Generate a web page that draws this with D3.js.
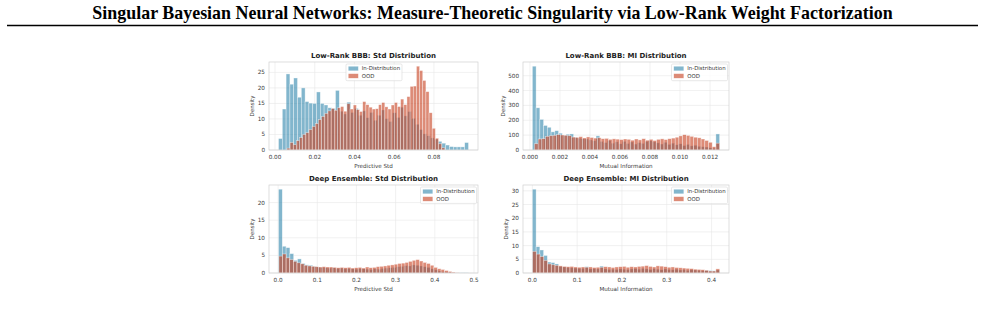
<!DOCTYPE html>
<html><head><meta charset="utf-8">
<script src="https://cdn.jsdelivr.net/npm/d3@7"></script>
<style>body{margin:0;background:#fff}svg{display:block}</style>
</head><body>
<svg id="c" width="985" height="309"></svg>
<script>
// ---------------- DATA ----------------
const figTitle = "Singular Bayesian Neural Networks: Measure-Theoretic Singularity via Low-Rank Weight Factorization";
const seriesNames = ["In-Distribution", "OOD"];

// Panel 1: Low-Rank BBB, predictive std
const p1Title = "Low-Rank BBB: Std Distribution";
const p1XLabel = "Predictive Std";
const p1XTicks = [0, 0.02, 0.04, 0.06, 0.08];
const p1YTicks = [0, 5, 10, 15, 20, 25];
const p1IdRange = [0.00176, 0.0974];
const p1IdDensity = [3.7, 13.2, 24.5, 21.2, 23.2, 17.0, 20.0, 15.6, 15.1, 15.0,
  18.7, 15.0, 14.5, 13.6, 13.4, 19.2, 12.5, 11.6, 15.4, 12.1,
  13.4, 11.2, 12.6, 10.4, 12.1, 9.6, 11.2, 12.9, 10.1, 9.2,
  12.0, 10.5, 13.8, 11.0, 12.4, 10.2, 8.3, 6.6, 5.2, 4.6,
  3.9, 3.5, 2.8, 2.2, 1.6, 1.1, 1.0, 1.0, 1.0, 2.4];
const p1OodRange = [0.0060, 0.0855];
const p1OodDensity = [0.6, 2.4, 1.7, 3.0, 4.0, 5.0, 5.6, 6.6, 7.6, 8.5,
  9.8, 10.8, 11.8, 12.6, 13.4, 12.8, 13.6, 14.0, 12.5, 14.9,
  13.2, 14.5, 13.0, 12.4, 15.6, 14.6, 13.8, 13.2, 13.3, 14.6,
  15.3, 13.9, 13.2, 14.5, 15.3, 14.0, 16.4, 14.6, 17.2, 20.5,
  20.6, 27.0, 25.6, 22.4, 18.8, 12.0, 7.0, 3.8, 2.0, 0.7];

// Panel 2: Low-Rank BBB, mutual information
const p2Title = "Low-Rank BBB: MI Distribution";
const p2XLabel = "Mutual Information";
const p2XTicks = [0, 0.002, 0.004, 0.006, 0.008, 0.010, 0.012];
const p2YTicks = [0, 100, 200, 300, 400, 500];
const p2IdRange = [0.00016, 0.01264];
const p2IdDensity = [564, 284, 206, 165, 153, 122, 130, 113, 100, 106,
  108, 86, 80, 76, 74, 68, 62, 95, 58, 50,
  64, 46, 55, 42, 58, 44, 54, 40, 50, 45,
  58, 62, 55, 48, 40, 52, 38, 46, 35, 42,
  30, 38, 28, 32, 25, 22, 20, 15, 12, 108];
const p2OodRange = [0.0003, 0.01264];
const p2OodDensity = [42, 74, 76, 92, 96, 99, 103, 101, 99, 96,
  87, 85, 90, 81, 88, 84, 80, 82, 76, 78,
  72, 75, 73, 70, 74, 72, 66, 74, 68, 76,
  66, 72, 64, 72, 75, 70, 76, 80, 86, 95,
  103, 98, 92, 86, 82, 74, 64, 52, 22, 46];

// Panel 3: Deep Ensemble, predictive std
const p3Title = "Deep Ensemble: Std Distribution";
const p3XLabel = "Predictive Std";
const p3XTicks = [0, 0.1, 0.2, 0.3, 0.4, 0.5];
const p3YTicks = [0, 5, 10, 15, 20];
const p3IdRange = [0.001, 0.486];
const p3IdDensity = [23.8, 7.6, 7.2, 5.5, 3.6, 4.0, 2.7, 2.3, 2.2, 1.9,
  1.7, 1.6, 1.5, 1.4, 1.5, 1.3, 1.4, 1.2, 1.3, 1.2,
  1.1, 1.3, 1.2, 1.1, 1.0, 1.2, 1.1, 1.3, 1.4, 1.5,
  1.6, 1.8, 1.9, 2.1, 2.0, 2.3, 2.2, 2.0, 1.8, 1.6,
  1.2, 0.9, 0.6, 0.4, 0.3, 0.2, 0.1, 0.1, 0.05, 0.05];
const p3OodRange = [0.002, 0.462];
const p3OodDensity = [4.8, 5.4, 4.3, 3.8, 3.3, 2.9, 2.6, 2.2, 2.0, 1.9,
  1.8, 1.7, 1.8, 1.7, 1.7, 1.6, 1.5, 1.6, 1.5, 1.6,
  1.4, 1.5, 1.6, 1.4, 1.7, 1.5, 1.6, 1.8, 1.9, 2.0,
  2.2, 2.3, 2.5, 2.7, 2.8, 3.0, 3.3, 3.6, 3.8, 3.4,
  3.0, 2.7, 2.2, 1.6, 1.2, 1.0, 0.7, 0.45, 0.25, 0.1];

// Panel 4: Deep Ensemble, mutual information
const p4Title = "Deep Ensemble: MI Distribution";
const p4XLabel = "Mutual Information";
const p4XTicks = [0, 0.1, 0.2, 0.3, 0.4];
const p4YTicks = [0, 5, 10, 15, 20, 25, 30];
const p4IdRange = [0.0, 0.418];
const p4IdDensity = [30.6, 9.6, 8.4, 6.4, 4.0, 3.8, 3.3, 2.4, 2.2, 2.0,
  1.9, 1.8, 1.7, 1.7, 2.3, 1.5, 1.6, 1.5, 2.5, 1.5,
  1.3, 1.4, 1.3, 1.5, 1.4, 1.3, 1.5, 1.6, 1.4, 1.7,
  1.5, 1.3, 1.6, 1.4, 1.2, 1.5, 1.3, 1.2, 1.4, 1.1,
  1.3, 1.0, 1.2, 1.1, 1.0, 0.9, 1.0, 0.9, 0.8, 1.1];
const p4OodRange = [0.0005, 0.418];
const p4OodDensity = [7.9, 6.9, 6.0, 4.6, 3.3, 3.0, 2.8, 2.6, 2.4, 2.3,
  2.4, 2.2, 2.1, 2.2, 2.1, 2.2, 2.0, 2.1, 2.1, 2.3,
  2.2, 2.0, 2.2, 2.3, 2.4, 2.1, 2.3, 2.2, 2.4, 2.5,
  2.7, 2.4, 2.2, 2.6, 2.5, 2.3, 2.1, 2.2, 2.0, 1.9,
  1.8, 1.7, 1.6, 1.4, 1.3, 1.2, 1.0, 0.7, 0.7, 1.5];

// ---------------- DRAWING ----------------
const svg = d3.select("#c");
const FONT = "'DejaVu Sans', sans-serif";
const COL_ID = "#2E86AB", COL_OOD = "#C73E1D";
const ALPHA = 0.6;
const TXT = "#3a3a3a";

// Figure title (fit to the measured width)
const tt = svg.append("text").attr("x", 492.5).attr("y", 19)
  .attr("text-anchor", "middle")
  .style("font-family", "'Liberation Serif', 'Times New Roman', serif")
  .style("font-weight", "bold").style("font-size", "20px").style("fill", "#000")
  .text(figTitle);
const tw = tt.node().getComputedTextLength();
tt.style("font-size", (20 * 801 / tw) + "px");
svg.append("line").attr("x1", 7).attr("x2", 978).attr("y1", 25.5).attr("y2", 25.5)
  .attr("stroke", "#000").attr("stroke-width", 1.6);

const panels = [
  {title: p1Title, xlabel: p1XLabel, xTicks: p1XTicks, xFmt: ".2f", yTicks: p1YTicks,
   id: [p1IdRange, p1IdDensity], ood: [p1OodRange, p1OodDensity], box: [269, 62, 478, 150], legend: "center"},
  {title: p2Title, xlabel: p2XLabel, xTicks: p2XTicks, xFmt: ".3f", yTicks: p2YTicks,
   id: [p2IdRange, p2IdDensity], ood: [p2OodRange, p2OodDensity], box: [523, 62, 729, 150], legend: "right"},
  {title: p3Title, xlabel: p3XLabel, xTicks: p3XTicks, xFmt: ".1f", yTicks: p3YTicks,
   id: [p3IdRange, p3IdDensity], ood: [p3OodRange, p3OodDensity], box: [269, 185, 478, 273], legend: "right"},
  {title: p4Title, xlabel: p4XLabel, xTicks: p4XTicks, xFmt: ".1f", yTicks: p4YTicks,
   id: [p4IdRange, p4IdDensity], ood: [p4OodRange, p4OodDensity], box: [523, 185, 729, 273], legend: "right"}
];

panels.forEach(p => {
  const [L, T, R, B] = p.box;
  const lo = Math.min(p.id[0][0], p.ood[0][0]);
  const hi = Math.max(p.id[0][1], p.ood[0][1]);
  const m = (hi - lo) * 0.05;
  const x = d3.scaleLinear().domain([lo - m, hi + m]).range([L, R]);
  const ymax = d3.max(p.id[1].concat(p.ood[1])) * 1.05;
  const y = d3.scaleLinear().domain([0, ymax]).range([B, T]);
  const g = svg.append("g");

  // grid
  g.selectAll(null).data(p.xTicks).enter().append("line")
    .attr("x1", d => x(d)).attr("x2", d => x(d)).attr("y1", T).attr("y2", B)
    .attr("stroke", "#e8e8e8").attr("stroke-width", 0.6);
  g.selectAll(null).data(p.yTicks).enter().append("line")
    .attr("x1", L).attr("x2", R).attr("y1", d => y(d)).attr("y2", d => y(d))
    .attr("stroke", "#e8e8e8").attr("stroke-width", 0.6);

  // bars
  [[p.id, COL_ID], [p.ood, COL_OOD]].forEach(([s, col]) => {
    const [r, vals] = s;
    const w = (r[1] - r[0]) / vals.length;
    g.selectAll(null).data(vals).enter().append("rect")
      .attr("x", (d, i) => x(r[0] + i * w))
      .attr("width", (d, i) => x(r[0] + (i + 1) * w) - x(r[0] + i * w))
      .attr("y", d => y(d)).attr("height", d => y(0) - y(d))
      .attr("fill", col).attr("fill-opacity", ALPHA)
      .attr("stroke", "#fff").attr("stroke-opacity", ALPHA).attr("stroke-width", 0.6);
  });

  // frame
  g.append("rect").attr("x", L).attr("y", T).attr("width", R - L).attr("height", B - T)
    .attr("fill", "none").attr("stroke", "#d0d0d0").attr("stroke-width", 0.7);

  // tick labels
  const fmt = d3.format(p.xFmt);
  g.selectAll(null).data(p.xTicks).enter().append("text")
    .attr("x", d => x(d)).attr("y", B + 9.2).attr("text-anchor", "middle")
    .style("font-family", FONT).style("font-size", "5.7px").style("fill", TXT)
    .text(d => fmt(d));
  const yl = g.selectAll(null).data(p.yTicks).enter().append("text")
    .attr("x", L - 4).attr("y", d => y(d) + 2).attr("text-anchor", "end")
    .style("font-family", FONT).style("font-size", "5.7px").style("fill", TXT)
    .text(d => d3.format("d")(d));
  let minX = L;
  yl.each(function () { const bb = this.getBBox(); minX = Math.min(minX, bb.x); });

  // axis labels
  g.append("text").attr("x", (L + R) / 2).attr("y", B + 17.8).attr("text-anchor", "middle")
    .style("font-family", FONT).style("font-size", "5.6px").style("fill", TXT).text(p.xlabel);
  g.append("text").attr("transform", `translate(${minX - 3.4},${(T + B) / 2}) rotate(-90)`)
    .attr("text-anchor", "middle")
    .style("font-family", FONT).style("font-size", "5.5px").style("fill", TXT).text("Density");

  // title
  g.append("text").attr("x", (L + R) / 2).attr("y", T - 4.2).attr("text-anchor", "middle")
    .style("font-family", FONT).style("font-weight", "bold").style("font-size", "7px")
    .style("fill", "#222").text(p.title);

  // legend
  const lw = 56, lh = 16.7;
  const lx = p.legend === "center" ? (L + R) / 2 - lw / 2 + 0.5 : R - lw - 1.5;
  const ly = T + 2;
  const lg = g.append("g").attr("transform", `translate(${lx},${ly})`);
  lg.append("rect").attr("width", lw).attr("height", lh).attr("rx", 1.2)
    .attr("fill", "#fff").attr("fill-opacity", 0.8)
    .attr("stroke", "#d8d8d8").attr("stroke-width", 0.6);
  [[seriesNames[0], COL_ID], [seriesNames[1], COL_OOD]].forEach(([name, col], i) => {
    const cy = 4.5 + i * 7.4;
    lg.append("rect").attr("x", 2.3).attr("y", cy - 2.2).attr("width", 10).attr("height", 4.5)
      .attr("fill", col).attr("fill-opacity", ALPHA)
      .attr("stroke", "#fff").attr("stroke-opacity", ALPHA).attr("stroke-width", 0.4);
    lg.append("text").attr("x", 15.7).attr("y", cy + 1.9)
      .style("font-family", FONT).style("font-size", "5.4px").style("fill", TXT).text(name);
  });
});
</script>
</body></html>
